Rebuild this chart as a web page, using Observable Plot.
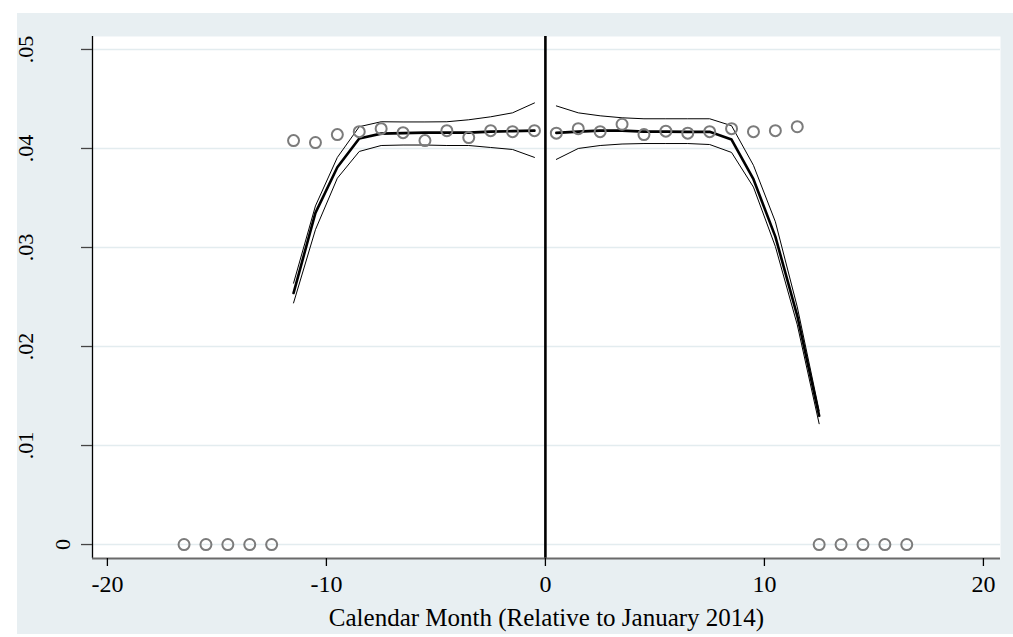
<!DOCTYPE html>
<html>
<head>
<meta charset="utf-8">
<script src="https://cdn.jsdelivr.net/npm/d3@7"></script>
<script src="https://cdn.jsdelivr.net/npm/@observablehq/plot@0.6"></script>
<style>
  html, body { margin: 0; padding: 0; background: #ffffff; }
  #wrap { position: relative; width: 1013px; height: 637px; overflow: hidden; }
  #bg { position: absolute; left: 17px; top: 13px; width: 996px; height: 621px; background: #e8eff2; }
  #chart { position: absolute; left: 0; top: 0; }
</style>
</head>
<body>
<div id="wrap"><div id="bg"></div><div id="chart"></div></div>
<script>
// ---- Data ----
const xTitle = "Calendar Month (Relative to January 2014)";
const xTicks = [-20, -10, 0, 10, 20];
const yTicks = [0, 0.01, 0.02, 0.03, 0.04, 0.05];
const xDomain = [-20.68, 20.78];
const yDomain = [-0.00141, 0.05131];
const cutoff = [0];

const pointMonths = [-16.5, -15.5, -14.5, -13.5, -12.5,
  -11.5, -10.5, -9.5, -8.5, -7.5, -6.5, -5.5, -4.5, -3.5, -2.5, -1.5, -0.5,
  0.5, 1.5, 2.5, 3.5, 4.5, 5.5, 6.5, 7.5, 8.5, 9.5, 10.5, 11.5,
  12.5, 13.5, 14.5, 15.5, 16.5];
const pointRates = [0, 0, 0, 0, 0,
  0.0408, 0.0406, 0.0414, 0.0417, 0.0420, 0.0416, 0.0408, 0.0418, 0.0411, 0.0418, 0.0417, 0.0418,
  0.04155, 0.0420, 0.0417, 0.04245, 0.0414, 0.04175, 0.04155, 0.0417, 0.0420, 0.0417, 0.0418, 0.0422,
  0, 0, 0, 0, 0];

const fitLeftMonths = [-11.5, -10.5, -9.5, -8.5, -7.5, -6.5, -5.5, -4.5, -3.5, -2.5, -1.5, -0.5];
const fitLeftMain   = [0.0254, 0.0335, 0.0381, 0.0410, 0.0415, 0.04155, 0.0416, 0.0416, 0.0416, 0.0417, 0.04175, 0.0418];
const fitLeftUpper  = [0.0264, 0.0342, 0.0391, 0.0422, 0.0427, 0.04268, 0.04268, 0.0427, 0.0429, 0.0432, 0.0436, 0.0446];
const fitLeftLower  = [0.0244, 0.0318, 0.0370, 0.0397, 0.0403, 0.04035, 0.04035, 0.0403, 0.0403, 0.0401, 0.0399, 0.0391];

const fitRightMonths = [0.5, 1.5, 2.5, 3.5, 4.5, 5.5, 6.5, 7.5, 8.5, 9.5, 10.5, 11.5, 12.5];
const fitRightMain   = [0.04158, 0.0417, 0.0418, 0.0418, 0.0417, 0.0417, 0.04168, 0.04168, 0.0409, 0.0369, 0.0311, 0.0231, 0.0130];
const fitRightUpper  = [0.0443, 0.0436, 0.0433, 0.0431, 0.0430, 0.0430, 0.0430, 0.0430, 0.0423, 0.0383, 0.0326, 0.0240, 0.0135];
const fitRightLower  = [0.0389, 0.0400, 0.0403, 0.04045, 0.0405, 0.0405, 0.0405, 0.0404, 0.0396, 0.0361, 0.0301, 0.0222, 0.0122];

// ---- Tables built from the arrays ----
const points = pointMonths.map((m, i) => ({month: m, rate: pointRates[i]}));
const fit = [
  ...fitLeftMonths.map((m, i) => ({segment: "pre", month: m, main: fitLeftMain[i], upper: fitLeftUpper[i], lower: fitLeftLower[i]})),
  ...fitRightMonths.map((m, i) => ({segment: "post", month: m, main: fitRightMain[i], upper: fitRightUpper[i], lower: fitRightLower[i]}))
];

const fmtY = d => d === 0 ? "0" : d.toFixed(2).replace(/^0/, "");
const fmtX = d => String(d);

const chart = Plot.plot({
  width: 1013,
  height: 637,
  marginLeft: 92,
  marginRight: 13,
  marginTop: 36,
  marginBottom: 79,
  style: {background: "transparent", fontFamily: "'Liberation Serif', 'Times New Roman', serif", fontSize: "24px", color: "black"},
  x: {domain: xDomain, ticks: xTicks},
  y: {domain: yDomain, ticks: yTicks},
  marks: [
    Plot.frame({fill: "white", stroke: "none"}),
    Plot.gridY(yTicks, {stroke: "#e3ecef", strokeOpacity: 1, strokeWidth: 1.6}),
    Plot.line(fit, {x: "month", y: "upper", z: "segment", stroke: "black", strokeWidth: 1}),
    Plot.line(fit, {x: "month", y: "lower", z: "segment", stroke: "black", strokeWidth: 1}),
    Plot.line(fit, {x: "month", y: "main", z: "segment", stroke: "black", strokeWidth: 2.6}),
    Plot.dot(points, {x: "month", y: "rate", r: 5.5, stroke: "#7b7b7b", strokeWidth: 2, fill: "none"}),
    Plot.ruleX(cutoff, {stroke: "black", strokeWidth: 2.6}),
    Plot.ruleX([xDomain[0]], {stroke: "black", strokeWidth: 1.3}),
    Plot.ruleY([yDomain[0]], {stroke: "#6a6a6a", strokeWidth: 2}),
    Plot.axisY({ticks: yTicks, tickSize: 11, fill: "none", stroke: "#444", strokeWidth: 1.3, label: null}),
    Plot.text(yTicks.filter(d => d !== 0), {y: d => d, frameAnchor: "left", dx: -67, rotate: -90, text: fmtY, textAnchor: "middle", lineAnchor: "middle", fontSize: 22, fill: "black"}),
    Plot.text(yTicks.filter(d => d === 0), {y: d => d, frameAnchor: "left", dx: -30, rotate: -90, text: fmtY, textAnchor: "middle", lineAnchor: "middle", fontSize: 22, fill: "black"}),
    Plot.axisX({ticks: xTicks, tickFormat: fmtX, tickSize: 8, tickPadding: 8, stroke: "black", strokeWidth: 1.3, label: null, fontSize: 24, fill: "black"}),
    Plot.text([xTitle], {frameAnchor: "bottom", dy: 59, text: d => d, lineAnchor: "middle", fontSize: 25, fill: "black"})
  ]
});
document.getElementById("chart").appendChild(chart);
</script>
</body>
</html>
